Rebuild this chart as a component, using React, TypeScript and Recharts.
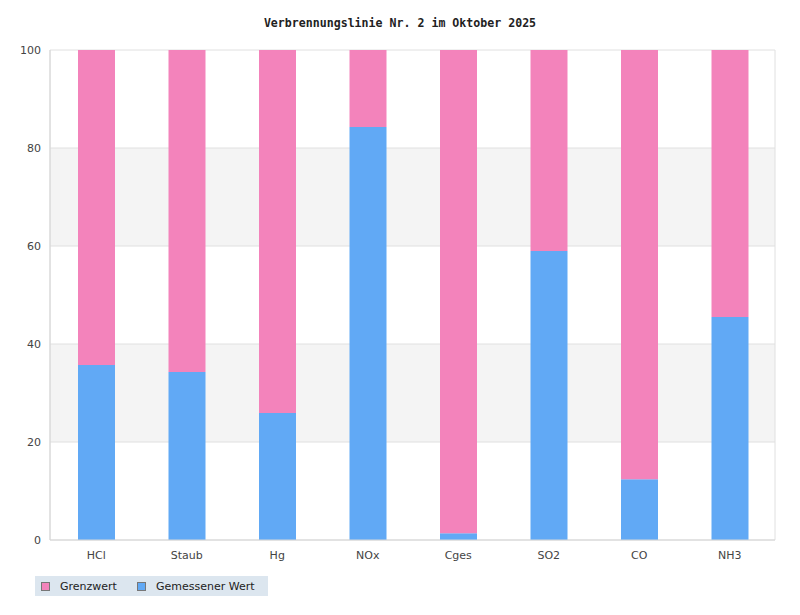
import React from 'react';
import { BarChart, Bar, XAxis, YAxis, CartesianGrid } from 'recharts';

const categories = ['HCl', 'Staub', 'Hg', 'NOx', 'Cges', 'SO2', 'CO', 'NH3'];
const gemessenerWert = [35.7, 34.3, 25.9, 84.3, 1.4, 59.0, 12.4, 45.5];
const grenzwert = gemessenerWert.map((v) => 100 - v);
const yTicks = [0, 20, 40, 60, 80, 100];

const data = categories.map((c, i) => ({
  name: c,
  gemessen: gemessenerWert[i],
  grenz: grenzwert[i],
}));

const PINK = '#f383bb';
const BLUE = '#61a9f5';

export default function App() {
  return (
    <div style={{ position: 'absolute', left: 0, top: 0, width: 800, height: 615, background: '#fff' }}>
      <div
        style={{
          position: 'absolute',
          top: 16,
          left: 0,
          width: 800,
          textAlign: 'center',
          fontFamily: '"DejaVu Sans Mono", monospace',
          fontWeight: 'bold',
          fontSize: 11.6,
          color: '#222',
        }}
      >
        Verbrennungslinie Nr. 2 im Oktober 2025
      </div>
      <BarChart
        width={800}
        height={615}
        data={data}
        margin={{ top: 50, right: 25, left: 0, bottom: 45 }}
        barSize={37}
      >
        <CartesianGrid
          vertical={true}
          horizontal={true}
          stroke="#e0e0e0"
          horizontalFill={['#ffffff', '#f4f4f4']}
          verticalPoints={[50, 775]}
        />
        <XAxis
          dataKey="name"
          height={30}
          tickLine={false}
          tickSize={0}
          tickMargin={11}
          padding={{ left: 1, right: 0 }}
          axisLine={{ stroke: '#d6d6d6' }}
          tick={{ fill: '#444', fontSize: 11, fontFamily: '"DejaVu Sans", sans-serif' }}
          interval={0}
        />
        <YAxis
          width={50}
          domain={[0, 100]}
          ticks={yTicks}
          tickLine={false}
          tickSize={0}
          tickMargin={9}
          axisLine={{ stroke: '#d6d6d6' }}
          tick={{ fill: '#444', fontSize: 11, fontFamily: '"DejaVu Sans", sans-serif' }}
        />
        <Bar dataKey="gemessen" name="Gemessener Wert" stackId="a" fill={BLUE} isAnimationActive={false} />
        <Bar dataKey="grenz" name="Grenzwert" stackId="a" fill={PINK} isAnimationActive={false} />
      </BarChart>
      <div
        style={{
          position: 'absolute',
          left: 35,
          top: 576,
          width: 233,
          height: 20,
          background: '#dce6ef',
          display: 'flex',
          alignItems: 'center',
          fontFamily: '"DejaVu Sans", sans-serif',
          fontSize: 11,
          color: '#222',
        }}
      >
        <span style={{ display: 'inline-block', width: 7, height: 7, background: PINK, border: '1px solid #777', marginLeft: 6 }} />
        <span style={{ marginLeft: 10 }}>Grenzwert</span>
        <span style={{ display: 'inline-block', width: 7, height: 7, background: BLUE, border: '1px solid #777', marginLeft: 20 }} />
        <span style={{ marginLeft: 10 }}>Gemessener Wert</span>
      </div>
    </div>
  );
}
